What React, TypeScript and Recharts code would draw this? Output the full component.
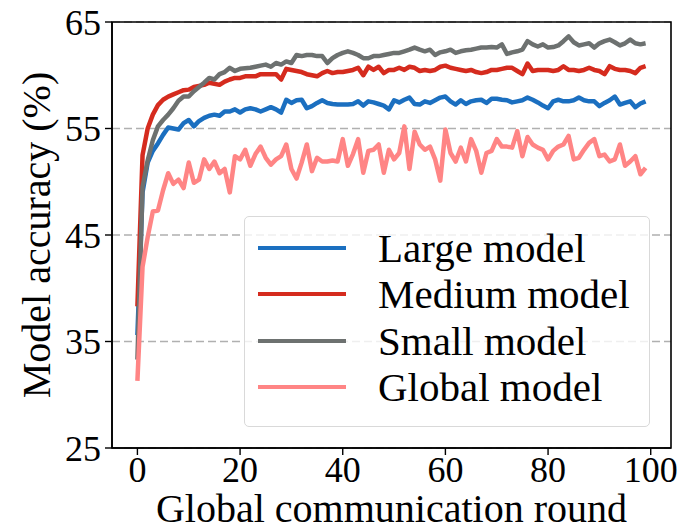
import { LineChart, Line, XAxis, YAxis, CartesianGrid, Legend, ReferenceArea } from 'recharts'

// accuracy per global round (0..99)
const largeModel = [
  35.6, 49.0, 51.8, 52.9, 53.6, 54.4, 55.1, 55.0, 54.9, 55.5,
  55.8, 55.2, 55.7, 56.0, 56.2, 56.3, 56.2, 56.6, 56.6, 56.8,
  56.5, 56.8, 56.9, 56.8, 56.6, 56.8, 57.0, 56.8, 56.5, 57.7,
  57.4, 57.65, 57.7, 56.9, 57.1, 57.4, 57.65, 57.4, 57.3, 57.25,
  57.25, 57.25, 57.3, 57.55, 57.15, 57.55, 57.45, 57.3, 57.15, 56.8,
  57.65, 57.45, 57.7, 57.9, 57.3, 57.25, 57.55, 57.4, 57.65, 57.9,
  58.0, 57.55, 57.25, 57.65, 57.3, 57.55, 57.65, 57.7, 57.4, 57.8,
  57.8, 57.7, 57.65, 57.45, 57.55, 57.65, 57.9, 57.7, 57.45, 57.15,
  56.9, 57.55, 57.7, 57.55, 57.55, 57.65, 57.9, 57.65, 57.55, 57.55,
  57.1, 57.4, 57.65, 58.0, 57.25, 57.4, 57.55, 57.0, 57.35, 57.55,
]

const mediumModel = [
  38.3, 52.5, 55.0, 56.3, 57.2, 57.7, 58.0, 58.2, 58.4, 58.6,
  58.65, 58.9, 59.0, 59.1, 59.3, 59.2, 59.1, 59.4, 59.6, 59.75,
  59.75, 59.9, 59.9, 59.9, 60.1, 60.1, 60.1, 60.1, 59.6, 60.6,
  60.5, 60.4, 60.3, 60.1, 60.0, 59.9, 60.2, 60.4, 60.2, 60.3,
  60.3, 60.4, 60.5, 60.7, 60.0, 60.8, 60.5, 60.8, 60.2, 60.5,
  60.5, 60.7, 60.5, 60.8, 60.7, 60.4, 60.5, 60.4, 60.5, 60.8,
  60.9, 60.7, 60.6, 60.5, 60.4, 60.5, 60.3, 60.2, 60.3, 60.5,
  60.5, 60.6, 60.7, 60.7, 60.4, 60.1, 61.1, 60.4, 60.5, 60.5,
  60.5, 60.4, 60.5, 60.85, 60.5, 60.5, 60.4, 60.5, 60.7, 60.5,
  60.4, 60.1, 60.85, 60.6, 60.5, 60.5, 60.4, 60.2, 60.7, 60.85,
]

const smallModel = [
  33.3, 49.5, 52.0, 53.9, 55.2, 55.8, 56.3, 56.9, 57.6, 58.0,
  58.0, 58.5, 58.9, 59.3, 59.75, 59.6, 60.1, 60.3, 60.7, 60.4,
  60.6, 60.65, 60.7, 60.8, 60.9, 61.0, 60.8, 61.15, 61.0, 61.3,
  61.15, 61.9, 61.8, 61.9, 61.9, 61.8, 61.8, 61.15, 61.6, 61.9,
  62.1, 62.25, 62.1, 61.9, 61.6, 61.6, 61.8, 61.8, 61.9, 62.0,
  62.1, 62.1, 62.25, 62.4, 62.6, 62.4, 62.25, 62.4, 61.9, 62.15,
  62.25, 62.4, 62.1, 62.25, 62.35, 62.4, 62.5, 62.6, 62.6, 62.65,
  62.6, 62.9, 62.0, 62.15, 62.25, 62.4, 63.2, 62.9, 62.7, 62.9,
  62.6, 62.65, 62.8, 63.2, 63.65, 63.1, 62.8, 62.9, 63.0, 62.6,
  63.0, 63.2, 63.35, 63.1, 62.8, 63.0, 63.35, 63.0, 62.9, 63.0,
]

const globalModel = [
  31.3, 42.0, 44.8, 47.2, 47.3, 49.2, 50.8, 49.8, 50.2, 49.4,
  51.8, 49.9, 50.2, 52.1, 51.2, 51.9, 50.8, 51.2, 49.0, 52.4,
  52.1, 53.0, 51.5, 52.6, 53.3, 52.25, 51.6, 52.1, 52.4, 53.5,
  51.2, 50.3, 51.8, 53.5, 51.0, 52.25, 51.9, 51.9, 52.0, 51.9,
  54.0, 51.5, 52.6, 54.0, 50.85, 52.9, 53.0, 53.5, 50.85, 53.0,
  52.1, 52.7, 55.2, 51.2, 54.7, 53.5, 53.0, 53.3, 52.1, 50.1,
  54.9, 52.7, 51.9, 53.2, 51.9, 54.0, 52.9, 50.85, 52.7, 52.9,
  54.0, 53.3, 53.3, 53.2, 54.75, 52.4, 54.2, 53.5, 53.2, 53.0,
  52.1, 52.9, 53.3, 53.5, 54.3, 52.1, 52.25, 53.0, 53.65, 54.0,
  52.4, 52.55, 51.9, 52.1, 53.5, 51.5, 51.9, 52.4, 50.7, 51.3,
]

const xTicks = [0, 20, 40, 60, 80, 100]
const yTicks = [25, 35, 45, 55, 65]

const FONT =
  '"Liberation Serif", Tinos, "Times New Roman", Times, "Nimbus Roman", "Nimbus Roman No9 L", FreeSerif, "Noto Serif", "DejaVu Serif", serif'

const series = [
  { key: 'large', name: 'Large model', color: '#1b6fc0' },
  { key: 'medium', name: 'Medium model', color: '#d52b1e' },
  { key: 'small', name: 'Small model', color: '#6d7170' },
  { key: 'global', name: 'Global model', color: '#ff8585' },
]

const data = largeModel.map((v, i) => ({
  round: i,
  large: v,
  medium: mediumModel[i],
  small: smallModel[i],
  global: globalModel[i],
}))

function LegendBox() {
  return (
    <div
      style={{
        width: 406,
        height: 211,
        boxSizing: 'border-box',
        background: 'rgba(255,255,255,0.8)',
        border: '1px solid #d9d9d9',
        borderRadius: 5,
        paddingTop: 8,
      }}
    >
      {series.map((s) => (
        <div key={s.key} style={{ display: 'flex', alignItems: 'center', height: 46.3 }}>
          <span style={{ display: 'block', marginLeft: 13, width: 88, height: 4, background: s.color }} />
          <span style={{ marginLeft: 32, fontSize: 41, fontFamily: FONT, color: '#000', lineHeight: '46px', whiteSpace: 'nowrap' }}>
            {s.name}
          </span>
        </div>
      ))}
    </div>
  )
}

export default function App() {
  return (
    <div style={{ position: 'absolute', left: 0, top: 0, fontFamily: FONT }}>
      <LineChart
        width={687}
        height={531}
        data={data}
        margin={{ top: 22, right: 16, bottom: 0, left: 0 }}
        style={{ fontFamily: FONT }}
      >
        <CartesianGrid vertical={false} stroke="#b0b0b0" strokeDasharray="8 4" strokeWidth={1.5} />
        <XAxis
          dataKey="round"
          type="number"
          domain={[-4.95, 103.95]}
          ticks={xTicks}
          allowDataOverflow
          height={83}
          tickSize={7}
          tickMargin={1}
          axisLine={{ stroke: '#000', strokeWidth: 1.6 }}
          tickLine={{ stroke: '#000', strokeWidth: 1.4 }}
          tick={{ fontSize: 36, fontFamily: FONT, fill: '#000' }}
          label={{
            value: 'Global communication round',
            position: 'insideBottom',
            offset: 9,
            style: { fontSize: 40, fontFamily: FONT, fill: '#000' },
          }}
        />
        <YAxis
          type="number"
          domain={[25, 65]}
          ticks={yTicks}
          width={112}
          tickSize={7}
          tickMargin={4}
          axisLine={{ stroke: '#000', strokeWidth: 1.6 }}
          tickLine={{ stroke: '#000', strokeWidth: 1.4 }}
          tick={{ fontSize: 36, fontFamily: FONT, fill: '#000' }}
          label={{
            value: 'Model accuracy (%)',
            angle: -90,
            position: 'insideLeft',
            offset: 36,
            style: { textAnchor: 'middle', fontSize: 40, fontFamily: FONT, fill: '#000' },
          }}
        />
        {series.map((s) => (
          <Line
            key={s.key}
            type="linear"
            dataKey={s.key}
            name={s.name}
            stroke={s.color}
            strokeWidth={4.5}
            strokeLinejoin="round"
            dot={false}
            activeDot={false}
            isAnimationActive={false}
          />
        ))}
        <ReferenceArea x1={-4.95} x2={103.95} y1={25} y2={65} fill="none" stroke="#000" strokeWidth={1.6} />
        <Legend
          layout="horizontal"
          verticalAlign="middle"
          align="center"
          content={<LegendBox />}
          wrapperStyle={{ left: 244, top: 216, width: 406, height: 211 }}
        />
      </LineChart>
    </div>
  )
}
